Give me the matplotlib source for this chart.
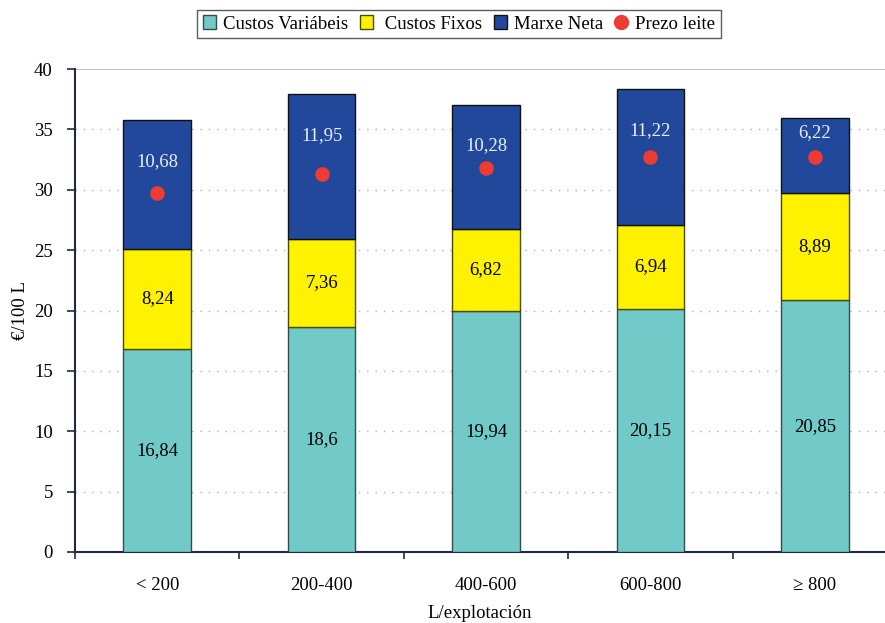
import numpy as np
import matplotlib.pyplot as plt
from matplotlib.lines import Line2D
from matplotlib.patches import Patch

plt.rcParams['font.family'] = ['Liberation Serif', 'DejaVu Serif']

categorias = ['< 200', '200-400', '400-600', '600-800', '≥ 800']
custos_variabeis = [16.84, 18.6, 19.94, 20.15, 20.85]
custos_fixos = [8.24, 7.36, 6.82, 6.94, 8.89]
marxe_neta = [10.68, 11.95, 10.28, 11.22, 6.22]
prezo_leite = [29.7, 31.3, 31.8, 32.7, 32.7]

c_var = '#71c9c8'
c_fix = '#fff200'
c_mar = '#22489c'
c_dot = '#ee3b33'
c_ax = '#1f2a44'
fs = 13.5

fig = plt.figure(figsize=(8.85, 6.23), dpi=100)
ax = fig.add_axes([75/885, 71/623, 822/885, 483/623])

x = np.arange(len(categorias))
w = 0.41
cv = np.array(custos_variabeis)
cf = np.array(custos_fixos)
mn = np.array(marxe_neta)

ax.bar(x, cv, w, color=c_var, edgecolor='#2f4f4f', linewidth=1, zorder=3)
ax.bar(x, cf, w, bottom=cv, color=c_fix, edgecolor='#4a4a00', linewidth=1, zorder=3)
ax.bar(x, mn, w, bottom=cv + cf, color=c_mar, edgecolor='#111111', linewidth=1, zorder=3)
ax.scatter(x, prezo_leite, s=110, color=c_dot, zorder=5, linewidths=0)

def fmt(v):
    return ('%g' % v).replace('.', ',')

for i in range(len(x)):
    ax.text(x[i], cv[i] / 2, fmt(cv[i]), ha='center', va='center', fontsize=fs, zorder=6)
    ax.text(x[i], cv[i] + cf[i] / 2, fmt(cf[i]), ha='center', va='center', fontsize=fs, zorder=6)
    top = cv[i] + cf[i] + mn[i]
    off = 3.4 if mn[i] > 8 else 0.2 * mn[i]
    ax.text(x[i], top - off, fmt(mn[i]), ha='center', va='center', fontsize=fs,
            color='#e8eef8', zorder=6)

ax.set_xlim(-0.5, 4.5)
ax.set_ylim(0, 40)
ax.set_yticks(np.arange(0, 41, 5))
ax.set_xticks(x)
ax.set_xticklabels(categorias, fontsize=fs)
ax.set_xticks(np.arange(-0.5, 4.6, 1), minor=True)
ax.tick_params(axis='x', which='major', length=0, pad=18)
ax.tick_params(axis='x', which='minor', length=5, color=c_ax, width=1.2)
ax.tick_params(axis='y', length=6, color=c_ax, width=1.2, labelsize=fs, pad=10)

for g in np.arange(5, 40, 5):
    ax.axhline(g, color='#b0b0b0', linestyle=(0, (1, 5)), linewidth=1, zorder=1)
ax.axhline(40, color='#b5b5b5', linewidth=1.2, zorder=1)

ax.spines['top'].set_visible(False)
ax.spines['right'].set_visible(False)
ax.spines['left'].set_color(c_ax)
ax.spines['bottom'].set_color(c_ax)
ax.spines['left'].set_linewidth(1.5)
ax.spines['bottom'].set_linewidth(1.5)

ax.set_ylabel('€/100 L', fontsize=fs)
ax.yaxis.set_label_coords((29 - 75) / 822, 0.5)
fig.text(480/885, 1 - 613/623, 'L/explotación', ha='center', va='center', fontsize=fs)

handles = [
    Patch(facecolor=c_var, edgecolor='#2f4f4f', label='Custos Variábeis'),
    Patch(facecolor=c_fix, edgecolor='#4a4a00', label=' Custos Fixos'),
    Patch(facecolor=c_mar, edgecolor='#111111', label='Marxe Neta'),
    Line2D([], [], marker='o', linestyle='', color=c_dot, markersize=10, label='Prezo leite'),
]
leg = fig.legend(handles=handles, loc='center', bbox_to_anchor=(459/885, 1 - 24/623),
                 ncol=4, fontsize=fs, frameon=True, fancybox=False, edgecolor='#333333',
                 handlelength=0.7, handleheight=0.7, handletextpad=0.4, columnspacing=0.6,
                 borderpad=0.3)
leg.get_frame().set_linewidth(1)

fig.savefig('out.png', dpi=100)
